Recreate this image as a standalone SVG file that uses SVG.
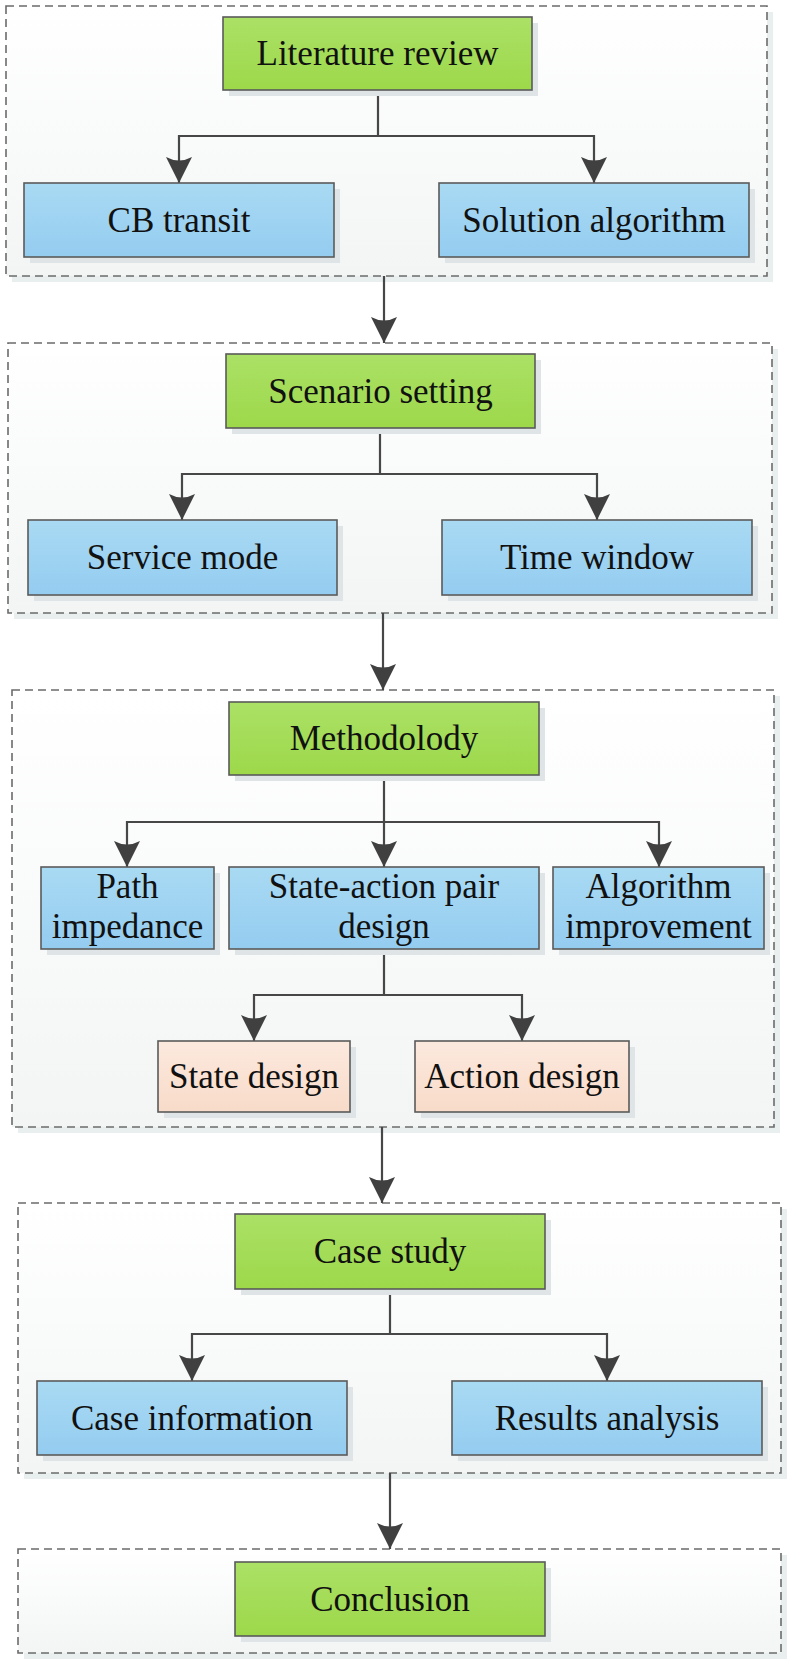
<svg xmlns="http://www.w3.org/2000/svg" width="795" height="1668" viewBox="0 0 795 1668">
<defs>
<linearGradient id="gGreen" x1="0" y1="0" x2="0" y2="1"><stop offset="0" stop-color="#abe166"/><stop offset="1" stop-color="#9dd84a"/></linearGradient>
<linearGradient id="gBlue" x1="0" y1="0" x2="0" y2="1"><stop offset="0" stop-color="#a9daf3"/><stop offset="1" stop-color="#94ccf0"/></linearGradient>
<linearGradient id="gPeach" x1="0" y1="0" x2="0" y2="1"><stop offset="0" stop-color="#fce9de"/><stop offset="1" stop-color="#f8dbc9"/></linearGradient>
<linearGradient id="gBg" x1="0" y1="0" x2="0" y2="1"><stop offset="0" stop-color="#ffffff"/><stop offset="1" stop-color="#f3f5f5"/></linearGradient>
<marker id="arr" markerUnits="userSpaceOnUse" viewBox="0 0 26 26" markerWidth="26" markerHeight="26" refX="26" refY="13" orient="auto">
<path d="M0,0 L26,13 L0,26 Q7,13 0,0 Z" fill="#404040"/>
</marker>
<style>
.cont{fill:url(#gBg);stroke:#6b6b6b;stroke-width:1.6;stroke-dasharray:8 5}
.cshadow{fill:#e9eeee}
.sh{fill:#dfe5e7}
.green{fill:url(#gGreen);stroke:#5a5a5a;stroke-width:1.6}
.blue{fill:url(#gBlue);stroke:#5a5a5a;stroke-width:1.6}
.peach{fill:url(#gPeach);stroke:#5a5a5a;stroke-width:1.6}
.t{font-family:"Liberation Serif","Times New Roman",serif;font-size:35px;fill:#111;text-anchor:middle}
.c{fill:none;stroke:#474747;stroke-width:2.2;marker-end:url(#arr)}
</style>
</defs>

<g id="containers">
<rect class="cshadow" x="12" y="12" width="761" height="270"/>
<rect class="cont" x="6" y="6" width="761" height="270"/>
<rect class="cshadow" x="14" y="349" width="764" height="270"/>
<rect class="cont" x="8" y="343" width="764" height="270"/>
<rect class="cshadow" x="18" y="696" width="762" height="437"/>
<rect class="cont" x="12" y="690" width="762" height="437"/>
<rect class="cshadow" x="24" y="1209" width="763" height="270"/>
<rect class="cont" x="18" y="1203" width="763" height="270"/>
<rect class="cshadow" x="24" y="1555" width="763" height="104"/>
<rect class="cont" x="18" y="1549" width="763" height="104"/>
</g>

<g id="connectors">
<path class="c" d="M378,90 V136 H179 V183"/>
<path class="c" d="M378,136 H594 V183"/>
<path class="c" d="M384,276 V343"/>
<path class="c" d="M380,428 V474 H182 V520"/>
<path class="c" d="M380,474 H597 V520"/>
<path class="c" d="M383,613 V690"/>
<path class="c" d="M384,775 V822 H127 V867"/>
<path class="c" d="M384,822 V867"/>
<path class="c" d="M384,822 H659 V867"/>
<path class="c" d="M384,949 V995 H254 V1041"/>
<path class="c" d="M384,995 H522 V1041"/>
<path class="c" d="M382,1127 V1203"/>
<path class="c" d="M390,1289 V1334 H192 V1381"/>
<path class="c" d="M390,1334 H607 V1381"/>
<path class="c" d="M390,1473 V1549"/>
</g>

<g id="n-literature-review"><rect class="sh" x="229" y="23" width="309" height="73"/><rect class="green" x="223" y="17" width="309" height="73"/><text class="t" x="377.5" y="65">Literature review</text></g>
<g id="n-cb-transit"><rect class="sh" x="30" y="189" width="310" height="74"/><rect class="blue" x="24" y="183" width="310" height="74"/><text class="t" x="179" y="231.5">CB transit</text></g>
<g id="n-solution-algorithm"><rect class="sh" x="445" y="189" width="310" height="74"/><rect class="blue" x="439" y="183" width="310" height="74"/><text class="t" x="594" y="231.5">Solution algorithm</text></g>

<g id="n-scenario-setting"><rect class="sh" x="232" y="360" width="309" height="74"/><rect class="green" x="226" y="354" width="309" height="74"/><text class="t" x="380.5" y="402.5">Scenario setting</text></g>
<g id="n-service-mode"><rect class="sh" x="34" y="526" width="309" height="75"/><rect class="blue" x="28" y="520" width="309" height="75"/><text class="t" x="182.5" y="569">Service mode</text></g>
<g id="n-time-window"><rect class="sh" x="448" y="526" width="310" height="75"/><rect class="blue" x="442" y="520" width="310" height="75"/><text class="t" x="597" y="569">Time window</text></g>

<g id="n-methodology"><rect class="sh" x="235" y="708" width="310" height="73"/><rect class="green" x="229" y="702" width="310" height="73"/><text class="t" x="384" y="750">Methodolody</text></g>
<g id="n-path-impedance"><rect class="sh" x="47" y="873" width="173" height="82"/><rect class="blue" x="41" y="867" width="173" height="82"/><text class="t" x="127.5" y="898">Path</text><text class="t" x="127.5" y="938">impedance</text></g>
<g id="n-state-action"><rect class="sh" x="235" y="873" width="310" height="82"/><rect class="blue" x="229" y="867" width="310" height="82"/><text class="t" x="384" y="898">State-action pair</text><text class="t" x="384" y="938">design</text></g>
<g id="n-algorithm-improvement"><rect class="sh" x="559" y="873" width="211" height="82"/><rect class="blue" x="553" y="867" width="211" height="82"/><text class="t" x="658.5" y="898">Algorithm</text><text class="t" x="658.5" y="938">improvement</text></g>
<g id="n-state-design"><rect class="sh" x="164" y="1047" width="192" height="71"/><rect class="peach" x="158" y="1041" width="192" height="71"/><text class="t" x="254" y="1088">State design</text></g>
<g id="n-action-design"><rect class="sh" x="421" y="1047" width="214" height="71"/><rect class="peach" x="415" y="1041" width="214" height="71"/><text class="t" x="522" y="1088">Action design</text></g>

<g id="n-case-study"><rect class="sh" x="241" y="1220" width="310" height="75"/><rect class="green" x="235" y="1214" width="310" height="75"/><text class="t" x="390" y="1263">Case study</text></g>
<g id="n-case-information"><rect class="sh" x="43" y="1387" width="310" height="74"/><rect class="blue" x="37" y="1381" width="310" height="74"/><text class="t" x="192" y="1429.5">Case information</text></g>
<g id="n-results-analysis"><rect class="sh" x="458" y="1387" width="310" height="74"/><rect class="blue" x="452" y="1381" width="310" height="74"/><text class="t" x="607" y="1429.5">Results analysis</text></g>

<g id="n-conclusion"><rect class="sh" x="241" y="1568" width="310" height="74"/><rect class="green" x="235" y="1562" width="310" height="74"/><text class="t" x="390" y="1610.5">Conclusion</text></g>
</svg>
